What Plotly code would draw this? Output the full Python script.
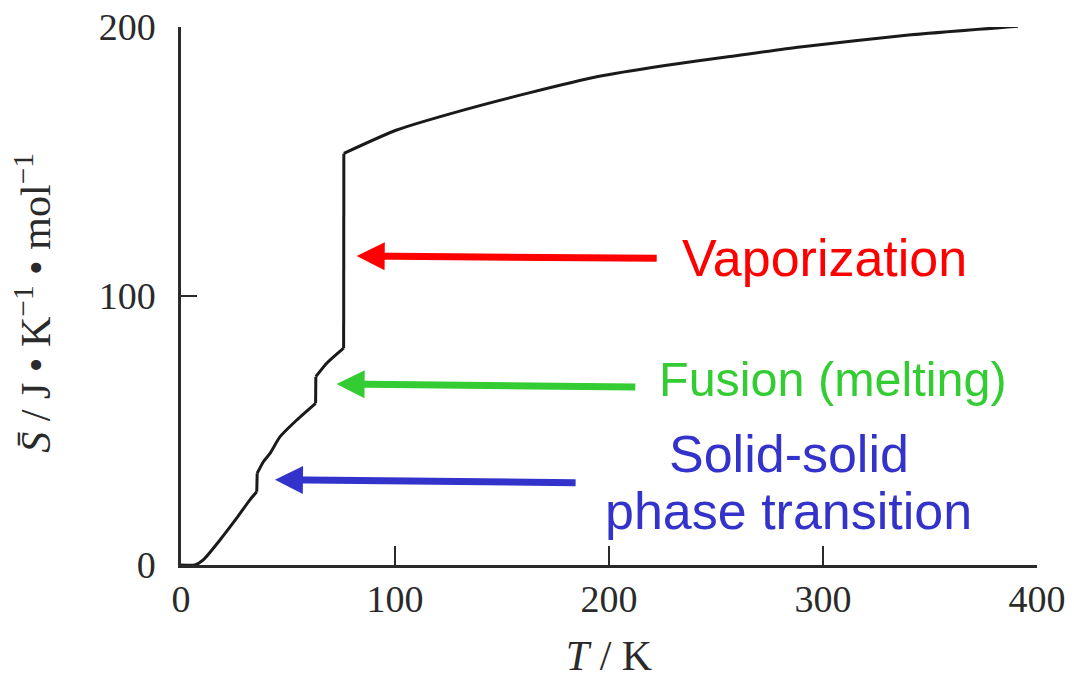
import plotly.graph_objects as go

# Molar entropy of N2 versus temperature, one list pair per phase
solid2_T = [0, 6.5, 10.4, 18.2, 26.0, 32.2, 35.4]
solid2_S = [0, 0, 1.9, 9.3, 17.4, 24.2, 27.2]
solid1_T = [35.6, 38.5, 41.6, 46.3, 54.1, 62.9]
solid1_S = [34.1, 38.4, 41.5, 47.7, 53.9, 60.1]
liquid_T = [63.0, 68.1, 76.0]
liquid_S = [70.0, 75.0, 80.6]
gas_T = [76.1, 100.8, 131.9, 163.1, 194.3, 225.4, 256.5, 289.3, 340.0, 391.1]
gas_S = [153.0, 161.7, 169.1, 175.6, 181.5, 185.6, 189.0, 192.6, 197.0, 200.3]

x_ticks = [0, 100, 200, 300, 400]
y_ticks = [0, 100, 200]

labels = ["Vaporization", "Fusion (melting)", "Solid-solid", "phase transition"]
label_colors = ["#ff0000", "#33cc33", "#3333cc", "#3333cc"]
label_sizes = [52, 48.5, 52, 52]
label_T = [233.0, 222.5, 284.1, 284.1]
label_S = [114.3, 69.0, 41.3, 20.0]
label_anchor = ["left", "left", "center", "center"]

arrow_colors = ["#ff0000", "#33cc33", "#3333cc"]
arrow_tip_T = [82.1, 72.7, 43.9]
arrow_tip_S = [114.9, 67.3, 31.7]
arrow_tail_T = [223.0, 213.0, 185.1]
arrow_tail_S = [114.0, 66.2, 30.6]

line_style = dict(color="#1a1a1a", width=3)
phases = [(solid2_T, solid2_S), (solid1_T, solid1_S), (liquid_T, liquid_S), (gas_T, gas_S)]

fig = go.Figure()
for pt, ps in phases:
    fig.add_trace(go.Scatter(x=pt, y=ps, mode="lines", line=dict(shape="spline", smoothing=0.6, **line_style),
                             hoverinfo="skip", showlegend=False))
# transition jumps (straight vertical steps between phases)
jx, jy = [], []
for (at, as_), (bt, bs) in zip(phases[:-1], phases[1:]):
    jx += [at[-1], bt[0], None]
    jy += [as_[-1], bs[0], None]
fig.add_trace(go.Scatter(x=jx, y=jy, mode="lines", line=line_style, hoverinfo="skip", showlegend=False))

for c, tx, ty, ax, ay in zip(arrow_colors, arrow_tip_T, arrow_tip_S, arrow_tail_T, arrow_tail_S):
    fig.add_annotation(x=tx, y=ty, ax=ax, ay=ay, xref="x", yref="y", axref="x", ayref="y",
                       text="", showarrow=True, arrowhead=2, arrowsize=0.8,
                       arrowwidth=7, arrowcolor=c, standoff=0)

for t, c, s, x, y, a in zip(labels, label_colors, label_sizes, label_T, label_S, label_anchor):
    fig.add_annotation(x=x, y=y, xref="x", yref="y", text=t, showarrow=False,
                       xanchor=a, yanchor="middle",
                       font=dict(family="Liberation Sans, Arial", size=s, color=c))

# y-axis title as rotated annotation
fig.add_annotation(x=-0.172, y=0.487, xref="paper", yref="paper",
                   text="<i>S̄</i> / J • K<sup>−1</sup> • mol<sup>−1</sup>",
                   textangle=-90, showarrow=False, xanchor="center", yanchor="middle",
                   font=dict(family="Liberation Serif, Times New Roman", size=42, color="#2a2a2a"))

axis_font = dict(family="Liberation Serif, Times New Roman", size=38, color="#2a2a2a")
fig.update_xaxes(range=[0, 400], tickvals=x_ticks, ticks="inside", ticklen=19, tickwidth=2,
                 tickcolor="#2a2a2a", showline=True, linecolor="#2a2a2a", linewidth=2.5,
                 showgrid=False, zeroline=False, tickfont=axis_font, ticklabelstandoff=-1,
                 title=dict(text="<i>T</i> / K", standoff=22,
                            font=dict(family="Liberation Serif, Times New Roman", size=42,
                                      color="#2a2a2a")))
fig.update_yaxes(range=[0, 200], tickvals=y_ticks, ticks="inside", ticklen=16, tickwidth=2,
                 tickcolor="#2a2a2a", showline=True, linecolor="#2a2a2a", linewidth=2.5,
                 showgrid=False, zeroline=False, tickfont=axis_font, ticklabelstandoff=15)

fig.update_layout(width=1074, height=681, paper_bgcolor="white", plot_bgcolor="white",
                  margin=dict(l=181, r=37, t=27, b=116, autoexpand=False),
                  showlegend=False)

fig.write_html("out.html", config={"displayModeBar": False},
               post_script="document.body.style.margin='0px';")
